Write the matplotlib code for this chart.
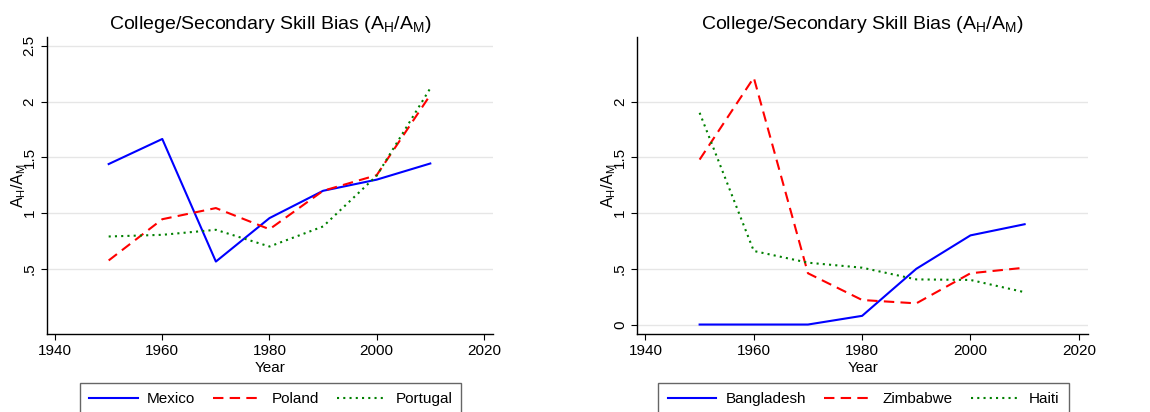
import numpy as np
import matplotlib
matplotlib.use('Agg')
import matplotlib.pyplot as plt

plt.rcParams['font.family'] = ['Liberation Sans', 'DejaVu Sans']
plt.rcParams['mathtext.fontset'] = 'custom'
plt.rcParams['mathtext.rm'] = 'Liberation Sans'
plt.rcParams['mathtext.it'] = 'Liberation Sans'

# data
years = [1950, 1960, 1970, 1980, 1990, 2000, 2010]

left_names = ['Mexico', 'Poland', 'Portugal']
mexico = [1.44, 1.665, 0.565, 0.955, 1.20, 1.30, 1.445]
poland = [0.575, 0.945, 1.045, 0.855, 1.20, 1.34, 2.06]
portugal = [0.79, 0.805, 0.85, 0.70, 0.88, 1.335, 2.12]

right_names = ['Bangladesh', 'Zimbabwe', 'Haiti']
bangladesh = [0.0, 0.0, 0.0, 0.078, 0.50, 0.80, 0.90]
zimbabwe = [1.48, 2.215, 0.46, 0.22, 0.19, 0.46, 0.51]
haiti = [1.90, 0.66, 0.555, 0.51, 0.405, 0.40, 0.29]

left_yticks = [0.5, 1, 1.5, 2, 2.5]
left_ylabels = ['.5', '1', '1.5', '2', '2.5']
right_yticks = [0, 0.5, 1, 1.5, 2]
right_ylabels = ['0', '.5', '1', '1.5', '2']
xticks = [1940, 1960, 1980, 2000, 2020]

title = 'College/Secondary Skill Bias ($\\mathregular{A_H/A_M}$)'
ylab = '$\\mathregular{A_H/A_M}$'

styles = [dict(color='#0000ff', ls='-'),
          dict(color='#ff0000', ls=(0, (5, 3))),
          dict(color='#008000', ls=(0, (1, 2)))]

fig = plt.figure(figsize=(11.5, 4.12), dpi=100)
ax1 = fig.add_axes([0.0409, 0.1893, 0.3878, 0.7209])
ax2 = fig.add_axes([0.5542, 0.1893, 0.3919, 0.7209])


def draw(ax, series, names, yt, yl, legend_x):
    for s, n, st in zip(series, names, styles):
        ax.plot(years, s, lw=1.5, label=n, **st)
    ax.set_xlim(1938.5, 2021.7)
    ax.set_ylim(-0.085, 2.58)
    ax.set_xticks(xticks)
    ax.set_yticks(yt)
    ax.set_yticklabels(yl, rotation=90, va='center')
    ax.tick_params(labelsize=11, length=4, width=0.8, colors='black')
    ax.grid(axis='y', color='#e6e6e6', lw=1)
    ax.set_axisbelow(True)
    for sp in ['top', 'right']:
        ax.spines[sp].set_visible(False)
    for sp in ['left', 'bottom']:
        ax.spines[sp].set_linewidth(1.0)
    ax.set_xlabel('Year', fontsize=11, labelpad=2)
    ax.set_ylabel(ylab, fontsize=11.5)
    ax.yaxis.set_label_coords(-0.043, 0.5)
    ax.set_title(title, fontsize=14, pad=6)
    fig.legend(*ax.get_legend_handles_labels(), loc='upper center',
               bbox_to_anchor=(legend_x, 0.0704), ncol=3, fontsize=11,
               frameon=True, fancybox=False, edgecolor='#404040',
               handlelength=3.2, handletextpad=0.6, columnspacing=1.2,
               borderpad=0.6, borderaxespad=0)


draw(ax1, [mexico, poland, portugal], left_names, left_yticks, left_ylabels, 270.5 / 1150)
draw(ax2, [bangladesh, zimbabwe, haiti], right_names, right_yticks, right_ylabels, 863.5 / 1150)

fig.savefig('out.png', dpi=100)
